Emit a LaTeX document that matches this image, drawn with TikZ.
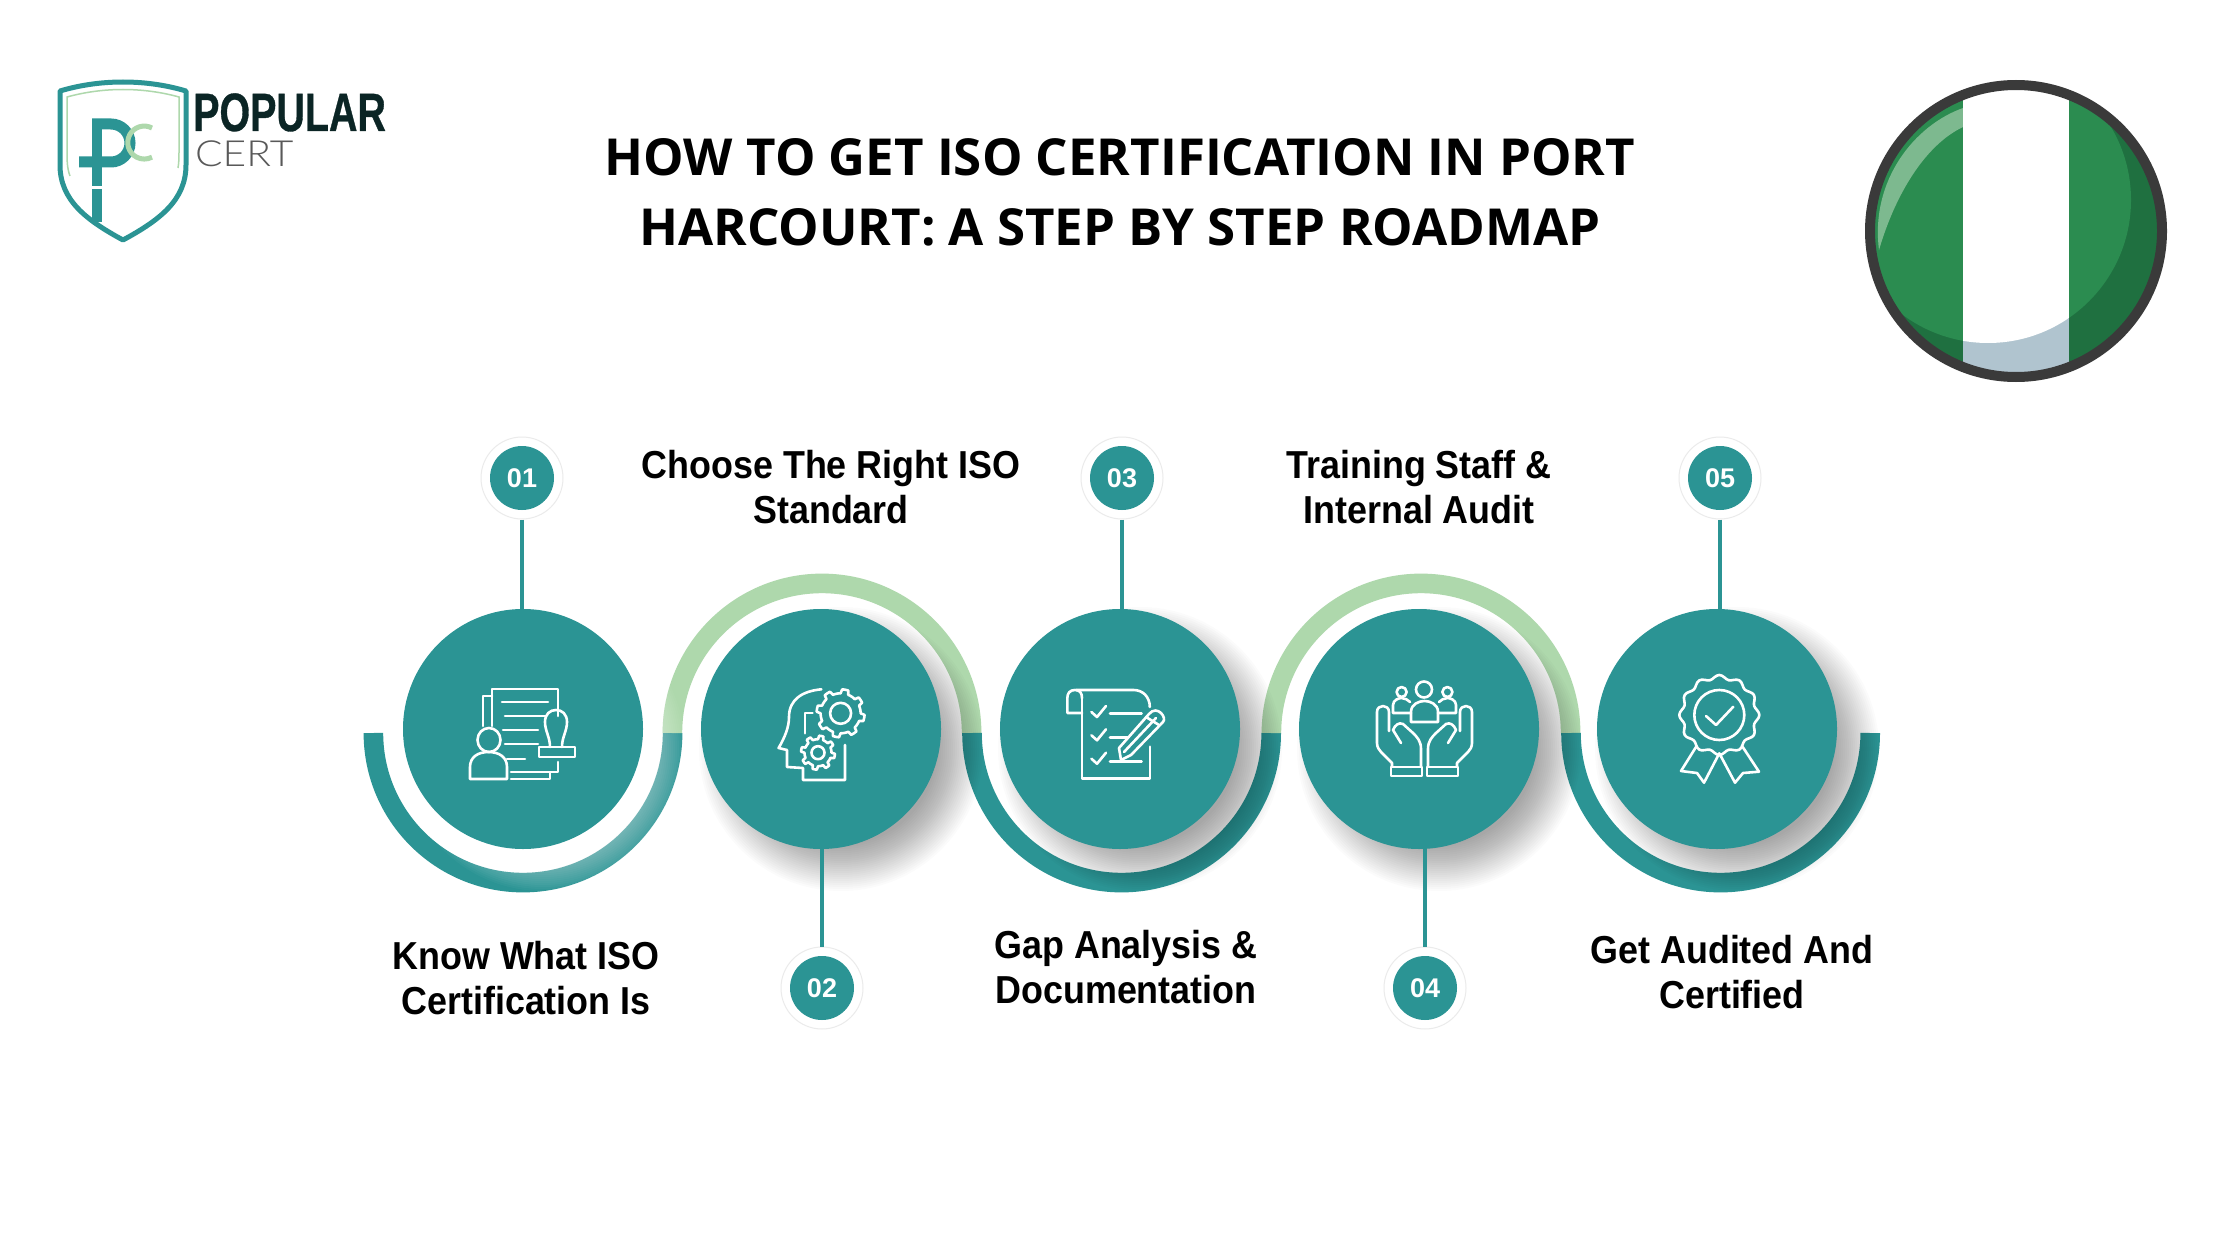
\documentclass[tikz,border=0pt]{standalone}
\usepackage{fontspec}
\setmainfont{Liberation Sans}
\newfontfamily\titlefont{Open Sans}
\newfontfamily\labelfont[FakeStretch=0.92]{Liberation Sans}
\newfontfamily\logofont[FakeStretch=0.73,FakeBold=0.6]{Liberation Sans}
\newfontfamily\certfont[FakeStretch=1.13]{Lato Light}
\definecolor{stepteal}{HTML}{2B9494}
\definecolor{stepgreen}{HTML}{AED8AC}
\definecolor{flaggreen}{HTML}{2B8C50}
\definecolor{flagdark}{HTML}{1F7040}
\definecolor{flagring}{HTML}{3A3A3A}
\definecolor{flagshine}{HTML}{7DB98F}
\definecolor{flagshade}{HTML}{B0C4CF}
\tikzset{
  stepcircle/.style={circle,fill=stepteal,minimum size=240pt,inner sep=0pt},
  badgering/.style={circle,draw=black!8,line width=1pt,fill=white,minimum size=82pt,inner sep=0pt},
  badgedot/.style={circle,fill=stepteal,minimum size=64pt,inner sep=0pt,text=white,font=\fontsize{27}{27}\selectfont\bfseries},
  steplabel/.style={align=center,inner sep=0pt,font=\labelfont\fontsize{39}{45}\selectfont\bfseries},
  steplink/.style={draw=stepteal,line width=3.5pt},
  trackteal/.style={draw=stepteal,line width=19.6pt},
  trackgreen/.style={draw=stepgreen,line width=19.6pt},
  icon/.style={draw=white,line width=2.6pt,line join=round,line cap=round}
}
% soft shadow under a step circle
\newcommand{\softshadow}[4]{
  \foreach \r in {96,98,...,142}
    \fill[#3,opacity=#4] (#1+20,#2+20) circle[radius=\r pt];
}
\newcommand{\gearshape}[4]{
  \draw[icon] plot[domain=0:360,samples=97] ({#1+(#3+#4*(sin(8*\x)>0))*cos(\x)},{#2+(#3+#4*(sin(8*\x)>0))*sin(\x)});
}
\begin{document}
\begin{tikzpicture}[x=1pt,y=-1pt]
\useasboundingbox (0,0) rectangle (2240,1260);
\fill[white] (0,0) rectangle (2240,1260);

% logo
\draw[stepteal,line width=5pt,line join=round] (60,91) .. controls (100,79) and (146,79) .. (186,91) -- (186,165) .. controls (186,200) and (160,220) .. (123,240) .. controls (86,220) and (60,200) .. (60,165) -- cycle;
\draw[stepgreen,line width=1.5pt] (70,176) .. controls (67,168) and (67,160) .. (67,150) -- (67,97) .. controls (103,87) and (143,87) .. (179,97) -- (179,150) .. controls (179,158) and (179,162) .. (178,168);
\draw[stepteal,line width=11pt] (79,162) -- (111,162) arc[start angle=-90,end angle=90,radius=19pt] -- (92,124);
\draw[stepteal,line width=10pt] (97,119) -- (97,186);
\draw[stepteal,line width=10pt] (97,189) -- (97,222);
\draw[stepgreen,line width=5pt] (152,128) arc[start angle=62,end angle=298,radius=16.5pt];
\node[anchor=base west,inner sep=0pt,text=black!75!stepteal,font=\logofont\fontsize{54}{54}\selectfont\bfseries] (logotop) at (193,131) {POPULAR};
\node[anchor=base west,inner sep=0pt,text=black!65,font=\certfont\fontsize{36}{36}\selectfont] (logobottom) at (195,167) {CERT};

% title
\node[align=center,inner sep=0pt,font=\titlefont\fontsize{51}{70}\selectfont\bfseries] (title) at (1120,192.5) {HOW TO GET ISO CERTIFICATION IN PORT\\HARCOURT: A STEP BY STEP ROADMAP};

% flag
\begin{scope}
\clip (2016,231) circle[radius=146pt];
\fill[flagdark] (2016,231) circle[radius=146pt];
\fill[flaggreen] (1988,200) circle[radius=143pt];
\fill[flagshine] (1963,108) .. controls (1915,125) and (1870,180) .. (1879,250) .. controls (1895,195) and (1925,145) .. (1963,127) -- cycle;
\fill[flagshade] (1963,60) rectangle (2069,400);
\clip (1988,200) circle[radius=143pt];
\fill[white] (1963,60) rectangle (2069,400);
\end{scope}
\draw[flagring,line width=10pt] (2016,231) circle[radius=146pt];

% track
\draw[trackteal] (373.4,733) arc[start angle=180,end angle=360,radius=149.6pt];
\draw[trackgreen] (672.4,733) arc[start angle=180,end angle=0,radius=149.6pt];
\draw[trackteal] (972,733) arc[start angle=180,end angle=360,radius=149.6pt];
\draw[trackgreen] (1271.4,733) arc[start angle=180,end angle=0,radius=149.6pt];
\draw[trackteal] (1571,733) arc[start angle=180,end angle=360,radius=149.6pt];

% shadows
\softshadow{523}{729}{white}{0.03}
\softshadow{821}{729}{black}{0.014}
\softshadow{1120}{729}{black}{0.014}
\softshadow{1419}{729}{black}{0.014}
\softshadow{1717}{729}{black}{0.014}

% steps
\node[stepcircle] (c1) at (523,729) {};
\node[stepcircle] (c2) at (821,729) {};
\node[stepcircle] (c3) at (1120,729) {};
\node[stepcircle] (c4) at (1419,729) {};
\node[stepcircle] (c5) at (1717,729) {};

\node[badgering] (r1) at (522,478) {};
\node[badgering] (r2) at (822,988) {};
\node[badgering] (r3) at (1122,478) {};
\node[badgering] (r4) at (1425,988) {};
\node[badgering] (r5) at (1720,478) {};
\node[badgedot] (b1) at (r1) {01};
\node[badgedot] (b2) at (r2) {02};
\node[badgedot] (b3) at (r3) {03};
\node[badgedot] (b4) at (r4) {04};
\node[badgedot] (b5) at (r5) {05};

\draw[steplink] (r1.south) -- (r1.south |- c1.north);
\draw[steplink] (r2.north) -- (r2.north |- c2.south);
\draw[steplink] (r3.south) -- (r3.south |- c3.north);
\draw[steplink] (r4.north) -- (r4.north |- c4.south);
\draw[steplink] (r5.south) -- (r5.south |- c5.north);

\node[steplabel] (t1) at (526,978) {Know What ISO\\Certification Is};
\node[steplabel] (t2) at (831,487) {Choose The Right ISO\\Standard};
\node[steplabel] (t3) at (1126,967) {Gap Analysis \&\\Documentation};
\node[steplabel] (t4) at (1419,487) {Training Staff \&\\Internal Audit};
\node[steplabel] (t5) at (1732,972) {Get Audited And\\Certified};

% icon 1, documents and stamp
\begin{scope}[shift={(c1.center)}]
\draw[icon] (-40,-3) -- (-40,-33) -- (-31,-33);
\draw[icon] (-31,-3) -- (-31,-40) -- (35,-40) -- (35,-13);
\draw[icon] (35,33) -- (35,43) -- (27,43) -- (27,50) -- (-12,50);
\draw[icon] (-12,43) -- (27,43);
\draw[icon] (-21,-27) -- (25,-27);
\draw[icon] (-18,-13) -- (23,-13);
\draw[icon] (-20,1) -- (15,1);
\draw[icon] (-18,15) -- (15,15);
\draw[icon] (-16,30) -- (2,30);
\draw[icon] (-34,11) ellipse[x radius=11.5pt,y radius=12pt];
\draw[icon] (-53,50) -- (-53,38) .. controls (-53,28) and (-45,23) .. (-34.5,23) .. controls (-24,23) and (-16,28) .. (-16,38) -- (-16,50) -- cycle;
\draw[icon] (27,18) .. controls (27,8) and (22,2) .. (22,-7) .. controls (22,-15) and (27,-19) .. (33,-19) .. controls (39,-19) and (44,-15) .. (44,-7) .. controls (44,2) and (39,8) .. (39,18);
\draw[icon] (16,18) rectangle (52,28);
\end{scope}

% icon 2, head and gears
\begin{scope}[shift={(c2.center)}]
\draw[icon] (0.4,-39.7) .. controls (-18,-38) and (-32,-30) .. (-32,-12) .. controls (-32,-2) and (-36,8) .. (-42.4,19) -- (-34,21) -- (-34,38) -- (-18,39) -- (-18,51) -- (24,51) -- (24,16);
\draw[icon] (-8.5,-16) -- (-16,-16) -- (-16,4.3);
\gearshape{19.6}{-15.7}{20}{4}
\draw[icon] (19.6,-15.7) circle[radius=10.5pt];
\gearshape{-3}{23.7}{13.5}{3.5}
\draw[icon] (-3,23.7) circle[radius=6.5pt];
\end{scope}

% icon 3, checklist and pencil
\begin{scope}[shift={(c3.center)}]
\draw[icon] (-43.7,-39) -- (13.5,-39) .. controls (23,-39) and (29.8,-32) .. (29.8,-22);
\draw[icon] (-38,-30.7) .. controls (-38,-36) and (-40,-39) .. (-45,-39) .. controls (-50,-39) and (-52.7,-36) .. (-52.7,-30.7) -- (-52.7,-16) -- (-38,-16);
\draw[icon] (-38,-30.7) -- (-38,49.3) -- (29.8,49.3) -- (29.8,17.7);
\foreach \d in {0,23.3,46.7}
  \draw[icon] (-28.6,-17+\d) -- (-23,-12+\d) -- (-14,-23+\d);
\draw[icon] (-10,-15.7) -- (21.6,-15.7);
\draw[icon] (-10,8.7) -- (7.3,8.7);
\draw[icon] (-10,32.7) -- (21.6,32.7);
\draw[icon] (1,31) -- (-1,19) -- (29,-15) .. controls (33,-20) and (38,-19) .. (41,-16) .. controls (44,-13) and (45,-9) .. (43,-7) -- (11,26) -- cycle;
\draw[icon] (4,23) -- (36,-11);
\draw[icon] (26,-12) -- (39,-4);
\end{scope}

% icon 4, hands and people
\begin{scope}[shift={(c4.center)}]
\draw[icon] (5,-39.5) circle[radius=8pt];
\draw[icon] (-8,-7) -- (-8,-17) .. controls (-8,-25) and (0,-28) .. (5.5,-28) .. controls (11,-28) and (19,-25) .. (19,-17) -- (19,-7) -- cycle;
\foreach \m/\o in {1/0,-1/11}{
\begin{scope}[shift={(\o,0)},xscale=\m]
\draw[icon] (-17.4,-37) circle[radius=5pt];
\draw[icon] (-8,-16) -- (-26,-16) -- (-26,-24) .. controls (-26,-29) and (-20,-31) .. (-17.5,-31) .. controls (-14,-31) and (-11,-29) .. (-9,-27);
\draw[icon] (-30,2) -- (-30,-17) .. controls (-30,-25) and (-42,-25) .. (-42,-17) -- (-42,14) .. controls (-42,18) and (-40,21) .. (-38,23) -- (-27,34) -- (-27,37.7);
\draw[icon] (2,37.7) -- (2,20) .. controls (2,12) and (-2,8) .. (-6,4) -- (-16,-5) .. controls (-20,-7) and (-24,-4) .. (-26,1) -- (-18,14);
\draw[icon] (-28,38) rectangle (3,47);
\end{scope}
}
\end{scope}

% icon 5, rosette
\begin{scope}[shift={(c5.center)}]
\draw[icon] plot[domain=0:360,samples=97,smooth] ({2.3+(38+2*cos(12*\x))*cos(\x)},{-14+(38+2*cos(12*\x))*sin(\x)});
\draw[icon] (2.3,-14) circle[radius=25pt];
\draw[icon] (-11,-13) -- (-1,-4) -- (16.3,-22.3);
\draw[icon] (-21,18) -- (-36,42) -- (-20,44) -- (-13,53.7) -- (2.3,24.3) -- (18,53.7) -- (26,44) -- (42,42.7) -- (25.7,18);
\end{scope}
\end{tikzpicture}
\end{document}
